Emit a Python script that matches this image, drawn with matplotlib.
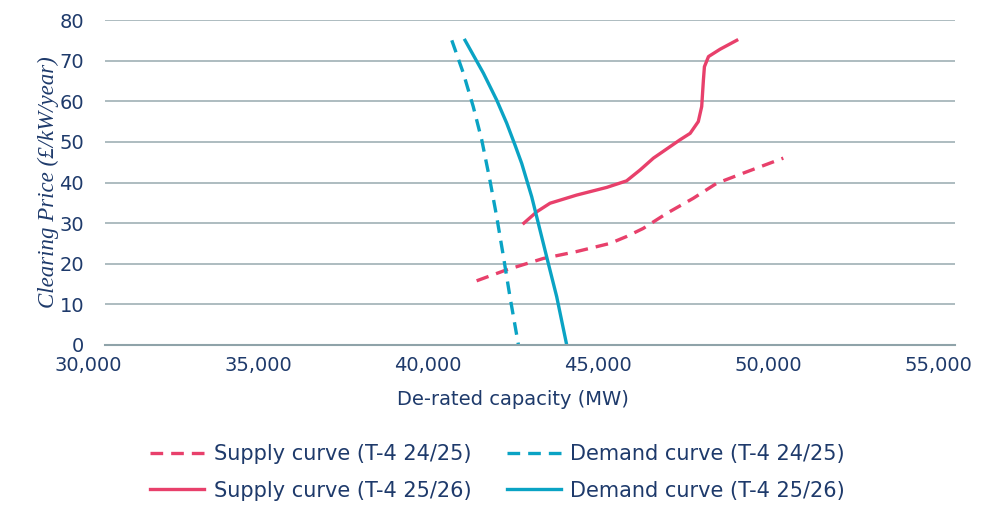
import numpy as np
import matplotlib.pyplot as plt
import matplotlib.transforms as mtransforms

# values
supply_2425_mw = [40930, 41810, 42890, 43870, 44850, 45340, 45830, 46520, 47300, 47990, 48770, 49950]
supply_2425_price = [15.8, 18.5, 21.3, 23.0, 25.0, 26.7, 28.7, 32.4, 36.1, 39.8, 42.3, 46.0]

demand_2425_mw = [40200, 40540, 40830, 41080, 41320, 41520, 41720, 41910, 42160]
demand_2425_price = [75.0, 66.9, 58.7, 50.5, 40.6, 31.6, 21.7, 11.9, 0.0]

supply_2526_mw = [42320, 42700, 43090, 43870, 44760, 45340, 45740, 46130, 46910, 47210,
                  47450, 47550, 47600, 47630, 47750, 48090, 48580]
supply_2526_price = [30.0, 32.8, 34.9, 36.9, 38.8, 40.4, 43.1, 46.0, 50.5, 52.1,
                     55.0, 58.7, 65.2, 68.5, 71.0, 72.8, 75.0]

demand_2526_mw = [40590, 41130, 41520, 41815, 42060, 42256, 42550, 42794, 43038, 43285, 43580]
demand_2526_price = [75.0, 66.9, 60.3, 54.6, 49.2, 44.7, 36.5, 28.3, 20.1, 11.9, 0.0]

x_ticks = [30000, 35000, 40000, 45000, 50000, 55000]
y_ticks = [0, 10, 20, 30, 40, 50, 60, 70, 80]

pink = "#E8406B"
teal = "#0AA3C4"
navy = "#1E3A6B"
grid = "#A7B6BB"

plt.rcParams["font.family"] = ["DejaVu Sans"]

fig = plt.figure(figsize=(9.95, 5.05), dpi=100)
ax = fig.add_axes([105 / 995, 160 / 505, 850 / 995, 325 / 505])

dash = (0, (3.8, 2.4))
lw = 2.4
ax.plot(supply_2425_mw, supply_2425_price, color=pink, lw=lw, linestyle=dash,
        label="Supply curve (T-4 24/25)")
ax.plot(supply_2526_mw, supply_2526_price, color=pink, lw=lw,
        label="Supply curve (T-4 25/26)")
ax.plot(demand_2425_mw, demand_2425_price, color=teal, lw=lw, linestyle=dash,
        label="Demand curve (T-4 24/25)")
ax.plot(demand_2526_mw, demand_2526_price, color=teal, lw=lw,
        label="Demand curve (T-4 25/26)")

ax.set_xlim(30000, 55000)
ax.set_ylim(0, 80)
ax.set_xticks(x_ticks)
ax.set_xticklabels([f"{v:,}" for v in x_ticks])
ax.set_yticks(y_ticks)
ax.yaxis.grid(True, color=grid, lw=1.3)
ax.set_axisbelow(True)
for s in ["top", "right", "left"]:
    ax.spines[s].set_visible(False)
ax.spines["bottom"].set_color("#8FA3A9")
ax.spines["bottom"].set_linewidth(1.5)
ax.tick_params(axis="both", length=0, labelsize=14, colors=navy)
ax.tick_params(axis="y", pad=15)
ax.tick_params(axis="x", pad=8)

# the x labels in the reference sit a bit left of the tick positions
offset = mtransforms.ScaledTranslation(-17 / 100, 0, fig.dpi_scale_trans)
for lab in ax.get_xticklabels():
    lab.set_transform(lab.get_transform() + offset)

ax.set_xlabel("De-rated capacity (MW)", fontsize=14, color=navy, labelpad=11)
ax.xaxis.label.set_transform(ax.xaxis.label.get_transform() + offset)
ax.set_ylabel("Clearing Price (£/kW/year)", fontsize=16.5, color=navy,
              family=["Liberation Serif", "DejaVu Serif"], style="italic", labelpad=0)

leg = fig.legend(loc="center", bbox_to_anchor=(0.5, 0.065), ncol=2, frameon=False,
                 fontsize=15, handlelength=2.6, columnspacing=1.7, labelspacing=0.8,
                 handletextpad=0.45)
for t in leg.get_texts():
    t.set_color(navy)

fig.savefig("out.png", dpi=100)
